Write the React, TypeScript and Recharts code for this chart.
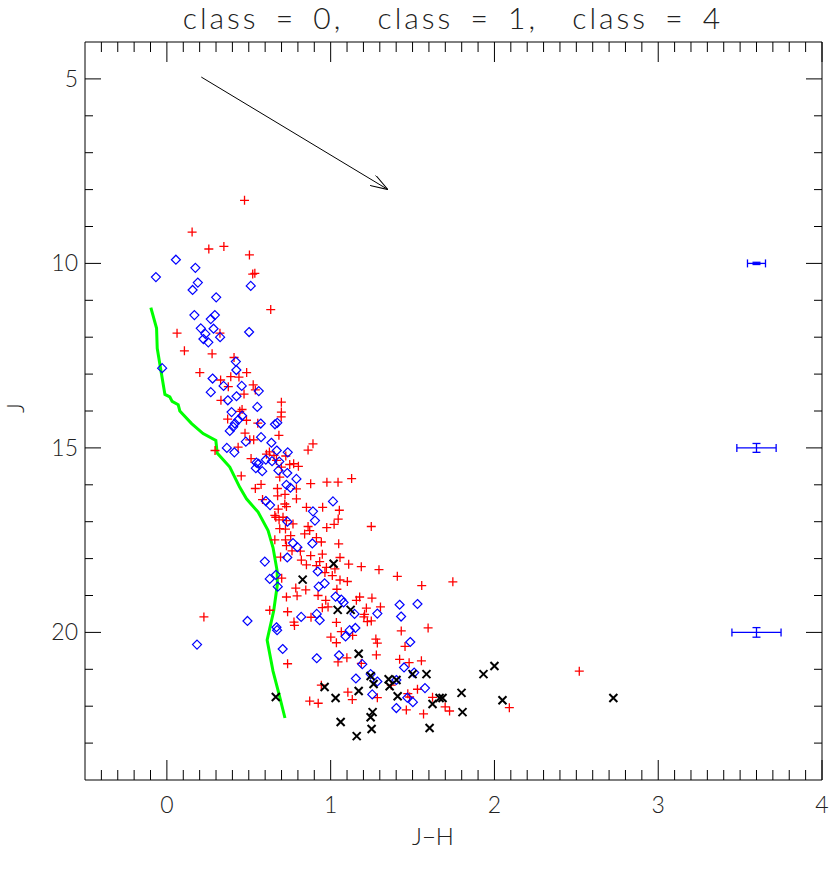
import React from 'react';
import { ScatterChart, Scatter, XAxis, YAxis, ErrorBar } from 'recharts';

const W = 830;
const H = 872;
const FONT = "Lato, 'DejaVu Sans', sans-serif";

// [J-H, J]
const plusPts: [number, number][] = [
  [0.474, 8.29], [0.154, 9.15], [0.256, 9.61], [0.348, 9.54], [0.504, 9.77], [0.524, 10.29], [0.537, 10.27],
  [0.634, 11.25], [0.062, 11.89], [0.324, 11.89], [0.107, 12.37], [0.276, 12.45], [0.41, 12.55], [0.201, 12.96],
  [0.487, 12.96], [0.328, 13.16], [0.39, 13.07], [0.44, 13.08], [0.375, 13.34], [0.527, 13.29], [0.54, 13.43],
  [0.471, 13.54], [0.33, 13.71], [0.699, 13.76], [0.699, 14.03], [0.698, 14.16], [0.459, 13.96], [0.445, 14.01],
  [0.486, 14.25], [0.371, 14.22], [0.555, 14.33], [0.684, 14.66], [0.477, 14.6], [0.506, 14.78], [0.53, 14.78],
  [0.294, 15.07], [0.435, 14.98], [0.608, 15.17], [0.626, 15.11], [0.514, 15.29], [0.654, 15.2], [0.726, 15.22],
  [0.669, 15.34], [0.699, 15.52], [0.454, 15.76], [0.575, 15.99], [0.54, 16.1], [0.675, 16.1], [0.721, 16.26],
  [0.676, 16.3], [0.584, 16.4], [0.72, 16.52], [0.68, 16.66], [0.659, 16.83], [0.665, 16.88], [0.709, 16.88],
  [0.73, 16.97], [0.689, 17.19], [0.724, 17.2], [0.659, 17.49], [0.724, 17.49], [0.694, 17.96], [0.701, 18.53],
  [0.73, 19.04], [0.628, 19.4], [0.737, 19.44], [0.226, 19.58], [0.737, 20.85], [0.862, 15.06], [0.892, 14.89],
  [0.75, 15.45], [0.774, 15.43], [0.803, 15.5], [0.689, 15.79], [0.791, 16.11], [0.791, 16.38], [0.878, 15.97],
  [0.977, 15.93], [1.045, 15.93], [1.128, 15.83], [0.73, 16.59], [0.852, 16.61], [0.951, 16.61], [1.053, 16.69],
  [0.685, 16.95], [0.77, 17.06], [0.862, 17.13], [1.021, 17.07], [0.976, 17.16], [1.248, 17.13], [1.046, 16.93],
  [0.913, 17.43], [0.943, 17.55], [1.049, 17.6], [0.949, 17.88], [1.057, 17.97], [1.11, 18.15], [1.187, 18.22],
  [1.295, 18.3], [0.933, 18.08], [0.913, 18.19], [0.974, 18.24], [0.841, 17.33], [0.872, 17.24], [0.756, 17.38],
  [0.815, 17.8], [0.73, 17.65], [0.764, 17.79], [0.878, 17.92], [0.821, 18.04], [0.852, 18.17], [1.407, 18.48],
  [1.556, 18.73], [1.746, 18.63], [0.965, 18.38], [1.01, 18.46], [1.026, 18.28], [1.057, 18.58], [1.102, 18.62],
  [0.787, 18.8], [0.795, 19.01], [0.848, 18.85], [0.923, 19.0], [1.038, 18.83], [0.97, 19.13], [1.157, 19.13],
  [1.177, 19.04], [1.252, 19.07], [1.304, 19.31], [0.949, 19.33], [0.984, 19.31], [0.88, 19.59], [1.218, 19.34],
  [1.207, 19.51], [1.224, 19.71], [1.203, 19.58], [1.248, 19.69], [1.035, 19.73], [0.776, 19.72], [0.779, 19.81],
  [1.595, 19.88], [1.065, 19.98], [1.431, 19.96], [1.001, 20.13], [1.035, 20.28], [1.276, 20.18], [1.134, 20.08],
  [1.454, 20.38], [1.279, 20.61], [1.421, 20.73], [1.554, 20.77], [1.099, 20.69], [1.285, 20.29], [1.045, 20.8],
  [1.187, 20.84], [1.479, 20.82], [0.943, 21.43], [1.37, 21.43], [1.105, 21.62], [1.132, 21.82], [1.285, 21.77],
  [1.471, 21.66], [1.482, 21.75], [1.53, 21.54], [1.622, 21.76], [1.699, 22.02], [1.726, 22.13], [1.567, 22.21],
  [1.462, 22.1], [0.872, 21.86], [0.924, 21.92], [2.091, 22.04], [2.518, 21.05],
];

const diamondPts: [number, number][] = [
  [-0.067, 10.37], [0.055, 9.9], [0.174, 10.12], [0.189, 10.52], [0.157, 10.72], [0.512, 10.61], [0.301, 10.92],
  [0.168, 11.4], [0.293, 11.4], [0.268, 11.51], [0.207, 11.76], [0.285, 11.77], [0.502, 11.86], [0.235, 11.91],
  [0.223, 12.05], [0.325, 12.0], [0.253, 12.14], [-0.029, 12.84], [0.421, 12.66], [0.424, 12.89], [0.279, 13.12],
  [0.346, 13.32], [0.268, 13.49], [0.457, 13.32], [0.372, 13.71], [0.425, 13.6], [0.561, 13.46], [0.552, 13.89],
  [0.395, 14.03], [0.459, 14.13], [0.436, 14.24], [0.415, 14.34], [0.405, 14.43], [0.384, 14.54], [0.573, 14.34],
  [0.482, 14.83], [0.575, 14.71], [0.66, 14.36], [0.674, 14.32], [0.638, 14.86], [0.671, 15.07], [0.366, 15.0],
  [0.412, 15.12], [0.738, 15.12], [0.547, 15.4], [0.559, 15.43], [0.543, 15.55], [0.582, 15.63], [0.604, 15.32],
  [0.642, 15.36], [0.686, 15.37], [0.681, 15.61], [0.735, 15.68], [0.73, 16.0], [0.791, 15.84], [0.754, 16.08],
  [0.604, 16.44], [0.63, 16.55], [0.736, 17.0], [1.014, 16.45], [0.892, 16.72], [0.904, 16.97], [0.77, 17.58],
  [0.797, 17.69], [0.888, 17.59], [0.735, 17.97], [0.598, 18.08], [0.921, 18.35], [0.628, 18.55], [0.666, 18.44],
  [0.677, 18.76], [0.963, 18.67], [0.927, 18.76], [1.03, 19.03], [1.065, 19.11], [1.079, 19.19], [1.421, 19.25],
  [1.53, 19.23], [1.43, 19.57], [1.285, 19.49], [1.146, 19.5], [0.82, 19.58], [0.915, 19.5], [0.933, 19.67],
  [0.492, 19.69], [0.669, 19.86], [0.673, 19.94], [1.151, 19.88], [1.116, 19.94], [1.091, 20.11], [1.486, 20.26],
  [0.707, 20.45], [0.184, 20.33], [0.915, 20.7], [1.051, 20.62], [1.193, 20.86], [1.448, 20.95], [1.51, 21.09],
  [1.244, 21.13], [1.154, 21.25], [1.285, 21.33], [1.401, 21.29], [1.576, 21.51], [1.254, 21.68], [1.468, 21.77],
  [1.502, 21.89], [1.401, 22.05],
];

const crossPts: [number, number][] = [
  [1.018, 18.14], [0.829, 18.57], [1.043, 19.39], [1.122, 19.39], [1.171, 20.58], [0.963, 21.48], [1.03, 21.78],
  [1.171, 21.59], [1.244, 21.18], [1.262, 21.4], [1.354, 21.27], [1.36, 21.46], [1.402, 21.29], [1.409, 21.73],
  [1.5, 21.13], [1.585, 21.13], [1.622, 21.94], [1.665, 21.78], [1.683, 21.78], [1.799, 21.64], [1.805, 22.16],
  [1.933, 21.13], [2.0, 20.91], [2.049, 21.84], [2.726, 21.78], [1.256, 22.16], [1.244, 22.3], [1.061, 22.43],
  [1.25, 22.62], [1.159, 22.81], [1.604, 22.59], [0.665, 21.75],
];

const isochrone: [number, number][] = [
  [-0.098, 11.2], [-0.063, 11.76], [-0.059, 12.3], [-0.012, 13.55], [0.018, 13.62], [0.032, 13.74], [0.069, 13.83],
  [0.079, 14.0], [0.151, 14.34], [0.221, 14.61], [0.299, 14.8], [0.307, 15.14], [0.384, 15.52], [0.445, 16.07],
  [0.486, 16.38], [0.557, 16.74], [0.618, 17.24], [0.648, 17.7], [0.673, 18.33], [0.675, 18.69], [0.652, 19.42],
  [0.612, 20.21], [0.648, 21.05], [0.685, 21.68], [0.721, 22.32],
];

const reddening: [number, number][] = [[0.21, 4.95], [1.35, 8.0]];

// typical errors at J = 10, 15, 20
const errJ = [10, 15, 20];
const errColour = 3.6;
const errJH = [0.055, 0.12, 0.15];
const errJmag = [0.03, 0.12, 0.13];

const xMajor = [0, 1, 2, 3, 4];
const yMajor = [5, 10, 15, 20];
const xTicks = Array.from({ length: 45 }, (_, i) => Math.round((-0.4 + i * 0.1) * 10) / 10);
const yTicks = Array.from({ length: 19 }, (_, i) => 5 + i);

const toObj = (arr: [number, number][]) => arr.map(([x, y]) => ({ x, y }));
const errData = errJ.map((y, i) => ({ x: errColour, y, ex: errJH[i], ey: errJmag[i] }));

const isMajor = (v: number, list: number[]) => list.some((m) => Math.abs(m - v) < 1e-6);

const BottomTick = ({ x, y, payload }: any) => {
  const major = isMajor(payload.value, xMajor);
  return (
    <g>
      <line x1={x} y1={y} x2={x} y2={y - (major ? 20 : 10)} stroke="#000" />
      {major && (
        <text x={x} y={y + 33} textAnchor="middle" fontFamily={FONT} fontWeight={300} fontSize={23} fill="#222">
          {payload.value}
        </text>
      )}
    </g>
  );
};

const TopTick = ({ x, y, payload }: any) => {
  const major = isMajor(payload.value, xMajor);
  return <line x1={x} y1={y} x2={x} y2={y + (major ? 20 : 10)} stroke="#000" />;
};

const LeftTick = ({ x, y, payload }: any) => {
  const major = isMajor(payload.value, yMajor);
  return (
    <g>
      <line x1={x} y1={y} x2={x + (major ? 16 : 8)} y2={y} stroke="#000" />
      {major && (
        <text x={x - 7} y={y + 8} textAnchor="end" fontFamily={FONT} fontWeight={300} fontSize={23} fill="#222">
          {payload.value}
        </text>
      )}
    </g>
  );
};

const RightTick = ({ x, y, payload }: any) => {
  const major = isMajor(payload.value, yMajor);
  return <line x1={x} y1={y} x2={x - (major ? 16 : 8)} y2={y} stroke="#000" />;
};

const Plus = ({ cx, cy }: any) => (
  <path d={`M${cx - 4.5},${cy}h9M${cx},${cy - 4.5}v9`} stroke="#ff0000" strokeWidth={1.3} fill="none" />
);
const Diamond = ({ cx, cy }: any) => (
  <path d={`M${cx},${cy - 4.5}L${cx + 4.5},${cy}L${cx},${cy + 4.5}L${cx - 4.5},${cy}Z`} stroke="#0000ff" strokeWidth={1.2} fill="none" />
);
const Cross = ({ cx, cy }: any) => (
  <path d={`M${cx - 4},${cy - 4}L${cx + 4},${cy + 4}M${cx + 4},${cy - 4}L${cx - 4},${cy + 4}`} stroke="#000" strokeWidth={2} fill="none" />
);
const NoDot = () => <g />;

export default function App() {
  const textStyle: React.CSSProperties = {
    position: 'absolute',
    fontFamily: FONT,
    fontWeight: 300,
    color: '#222',
    whiteSpace: 'pre',
    transform: 'translate(-50%, -50%)',
    lineHeight: 1,
  };
  return (
    <div style={{ position: 'absolute', left: 0, top: 0, width: W, height: H, background: '#fff' }}>
      <svg width={0} height={0} style={{ position: 'absolute' }}>
        <defs>
          <marker id="arrowHead" viewBox="0 0 18 12" refX={18} refY={6} markerWidth={18} markerHeight={12} markerUnits="userSpaceOnUse" orient="auto">
            <path d="M0,0L18,6L0,12" fill="none" stroke="#000" strokeWidth={1} />
          </marker>
        </defs>
      </svg>
      <ScatterChart width={W} height={H} margin={{ top: 41, right: 7, bottom: 0, left: 0 }}>
        <XAxis xAxisId={0} type="number" dataKey="x" domain={[-0.5, 4]} allowDataOverflow ticks={xTicks} interval={0}
          tick={<BottomTick />} tickLine={false} tickSize={0} tickMargin={0} height={92} axisLine={{ stroke: '#000' }} />
        <XAxis xAxisId="top" orientation="top" type="number" dataKey="x" domain={[-0.5, 4]} allowDataOverflow ticks={xTicks} interval={0}
          tick={<TopTick />} tickLine={false} tickSize={0} tickMargin={0} height={1} axisLine={{ stroke: '#000' }} />
        <YAxis yAxisId={0} type="number" dataKey="y" domain={[4, 24]} reversed allowDataOverflow ticks={yTicks} interval={0}
          tick={<LeftTick />} tickLine={false} tickSize={0} tickMargin={0} width={85} axisLine={{ stroke: '#000' }} />
        <YAxis yAxisId="right" orientation="right" type="number" dataKey="y" domain={[4, 24]} reversed allowDataOverflow ticks={yTicks} interval={0}
          tick={<RightTick />} tickLine={false} tickSize={0} tickMargin={0} width={1} axisLine={{ stroke: '#000' }} />

        <Scatter xAxisId="top" yAxisId="right" data={errData} shape={<NoDot />} isAnimationActive={false} />
        <Scatter data={toObj(isochrone)} line={{ stroke: '#00ff00', strokeWidth: 3 }} shape={<NoDot />} isAnimationActive={false} />
        <Scatter data={toObj(reddening)} line={{ stroke: '#000', strokeWidth: 1, markerEnd: 'url(#arrowHead)' }} shape={<NoDot />} isAnimationActive={false} />
        <Scatter data={toObj(plusPts)} shape={<Plus />} isAnimationActive={false} />
        <Scatter data={toObj(diamondPts)} shape={<Diamond />} isAnimationActive={false} />
        <Scatter data={toObj(crossPts)} shape={<Cross />} isAnimationActive={false} />
        <Scatter data={errData} shape={<NoDot />} isAnimationActive={false}>
          <ErrorBar dataKey="ex" direction="x" width={4} stroke="#0000ff" strokeWidth={1.3} isAnimationActive={false} />
          <ErrorBar dataKey="ey" direction="y" width={4} stroke="#0000ff" strokeWidth={1.3} isAnimationActive={false} />
        </Scatter>
      </ScatterChart>
      <div style={{ ...textStyle, left: 453, top: 17, fontSize: 30, letterSpacing: 3, wordSpacing: 6 }}>
        {'class = 0,  class = 1,  class = 4'}
      </div>
      <div style={{ ...textStyle, left: 433, top: 836, fontSize: 24 }}>J−H</div>
      <div style={{ ...textStyle, left: 15, top: 408, fontSize: 24, transform: 'translate(-50%, -50%) rotate(-90deg)' }}>J</div>
    </div>
  );
}
